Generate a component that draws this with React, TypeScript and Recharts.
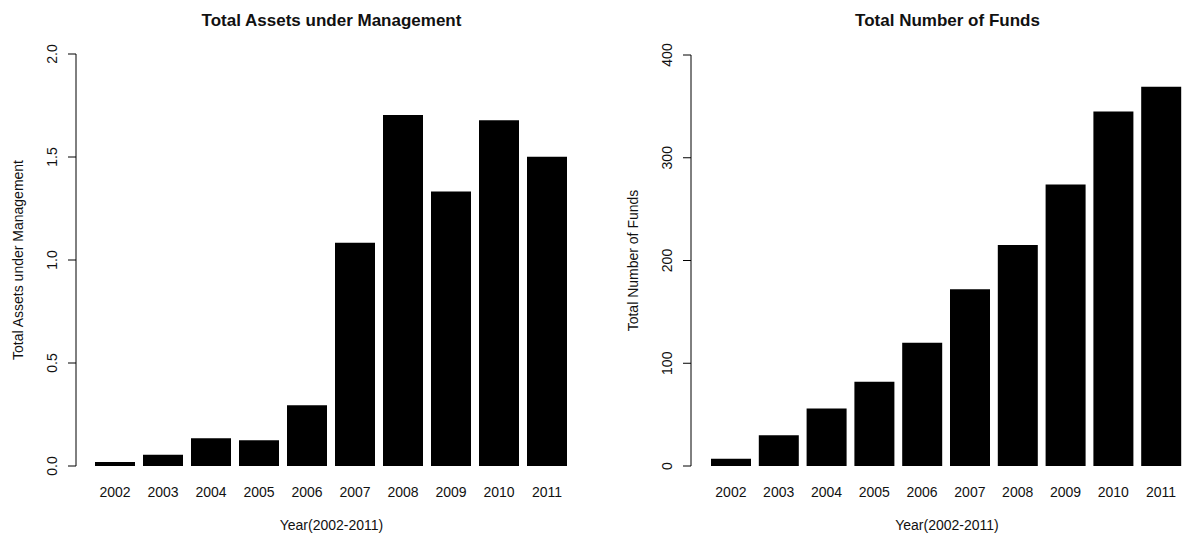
import React from 'react';
import { BarChart, Bar, XAxis, YAxis, Label } from 'recharts';

const years = ['2002', '2003', '2004', '2005', '2006', '2007', '2008', '2009', '2010', '2011'];
const assetsValues = [0.02, 0.055, 0.135, 0.125, 0.295, 1.084, 1.704, 1.333, 1.678, 1.501];
const fundsValues = [7, 30, 56, 82, 120, 172, 215, 274, 345, 369];
const assetsTicks = [0, 0.5, 1, 1.5, 2];
const fundsTicks = [0, 100, 200, 300, 400];

const assetsData = years.map((year, i) => ({ year, value: assetsValues[i] }));
const fundsData = years.map((year, i) => ({ year, value: fundsValues[i] }));

const FONT = '"Liberation Sans", Arial, Helvetica, sans-serif';
const INK = '#111';
const TEXT_SIZE = 14;

const rotatedTick = (format: (v: number) => string) => (props: any) => {
  const { x, y, payload } = props;
  const bx = x - 9;
  return (
    <text
      x={bx}
      y={y}
      transform={`rotate(-90, ${bx}, ${y})`}
      textAnchor="middle"
      fontSize={TEXT_SIZE}
      fill={INK}
      fontFamily={FONT}
    >
      {format(payload.value)}
    </text>
  );
};

const yTitle = (text: string, axisGap: number) => (props: any) => {
  const { viewBox } = props;
  const cx = viewBox.x + viewBox.width - axisGap;
  const cy = viewBox.y + viewBox.height / 2;
  return (
    <text
      x={cx}
      y={cy}
      transform={`rotate(-90, ${cx}, ${cy})`}
      textAnchor="middle"
      dominantBaseline="central"
      fontSize={TEXT_SIZE}
      fill={INK}
      fontFamily={FONT}
    >
      {text}
    </text>
  );
};

const xTitle = (text: string) => (props: any) => {
  const { viewBox } = props;
  return (
    <text
      x={viewBox.x + viewBox.width / 2}
      y={530}
      textAnchor="middle"
      fontSize={TEXT_SIZE}
      fill={INK}
      fontFamily={FONT}
    >
      {text}
    </text>
  );
};

const titleStyle = (center: number): React.CSSProperties => ({
  position: 'absolute',
  top: 11,
  left: center - 200,
  width: 400,
  textAlign: 'center',
  fontFamily: FONT,
  fontWeight: 'bold',
  fontSize: 17,
  color: INK,
  lineHeight: '20px',
});

export default function App() {
  return (
    <div
      style={{
        position: 'absolute',
        left: 0,
        top: 0,
        width: 1185,
        height: 540,
        overflow: 'hidden',
        background: '#fff',
      }}
    >
      <div style={titleStyle(331.5)}>Total Assets under Management</div>
      <div style={titleStyle(947.5)}>Total Number of Funds</div>

      <div style={{ position: 'absolute', left: 0, top: 0 }}>
        <BarChart
          width={600}
          height={540}
          data={assetsData}
          margin={{ top: 54, right: 13, bottom: 44, left: 0 }}
          barCategoryGap={4}
        >
          <XAxis
            dataKey="year"
            axisLine={false}
            tickLine={false}
            tickSize={0}
            tickMargin={21}
            height={30}
            interval={0}
            padding={{ left: 15, right: 16 }}
            tick={{ fontSize: TEXT_SIZE, fill: INK, fontFamily: FONT }}
          >
            <Label content={xTitle('Year(2002-2011)')} />
          </XAxis>
          <YAxis
            type="number"
            domain={[0, 2]}
            ticks={assetsTicks}
            interval={0}
            width={76}
            tickSize={8}
            tickMargin={2}
            axisLine={{ stroke: '#000', strokeWidth: 1 }}
            tickLine={{ stroke: '#000', strokeWidth: 1 }}
            tick={rotatedTick((v) => v.toFixed(1))}
          >
            <Label content={yTitle('Total Assets under Management', 58)} />
          </YAxis>
          <Bar dataKey="value" fill="#000" isAnimationActive={false} />
        </BarChart>
      </div>

      <div style={{ position: 'absolute', left: 600, top: 0 }}>
        <BarChart
          width={620}
          height={540}
          data={fundsData}
          margin={{ top: 55, right: 17, bottom: 44, left: 0 }}
          barCategoryGap={4}
        >
          <XAxis
            dataKey="year"
            axisLine={false}
            tickLine={false}
            tickSize={0}
            tickMargin={21}
            height={30}
            interval={0}
            padding={{ left: 16, right: 18 }}
            tick={{ fontSize: TEXT_SIZE, fill: INK, fontFamily: FONT }}
          >
            <Label content={xTitle('Year(2002-2011)')} />
          </XAxis>
          <YAxis
            type="number"
            domain={[0, 400]}
            ticks={fundsTicks}
            interval={0}
            width={91}
            tickSize={8}
            tickMargin={2}
            axisLine={{ stroke: '#000', strokeWidth: 1 }}
            tickLine={{ stroke: '#000', strokeWidth: 1 }}
            tick={rotatedTick((v) => String(v))}
          >
            <Label content={yTitle('Total Number of Funds', 58)} />
          </YAxis>
          <Bar dataKey="value" fill="#000" isAnimationActive={false} />
        </BarChart>
      </div>
    </div>
  );
}
